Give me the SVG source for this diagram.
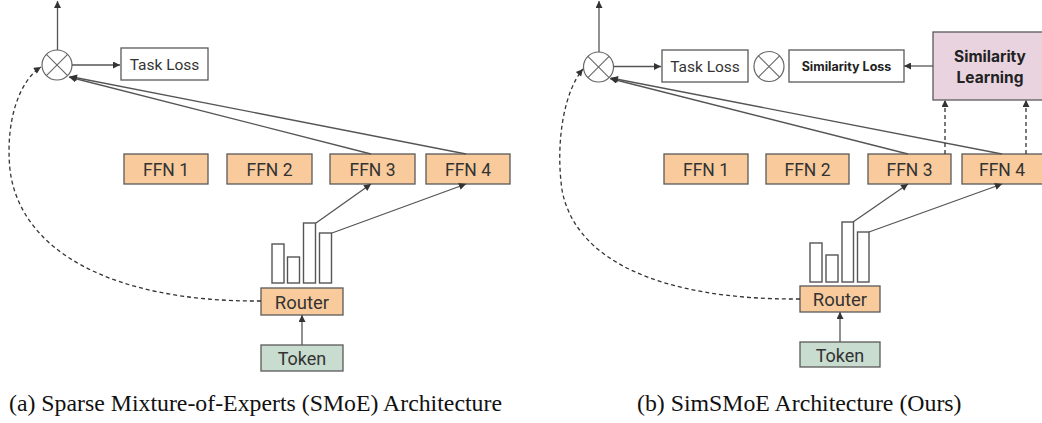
<svg xmlns="http://www.w3.org/2000/svg" width="1042" height="423" viewBox="0 0 1042 423">
<style>
  .ffn{fill:#f9cb9c;stroke:#595959;stroke-width:1.3}
  .tok{fill:#c8dccf;stroke:#595959;stroke-width:1.3}
  .box{fill:#ffffff;stroke:#595959;stroke-width:1.3}
  .sim{fill:#e8d3df;stroke:#595959;stroke-width:1.3}
  .bar{fill:#ffffff;stroke:#555;stroke-width:1.4}
  .op{fill:#ffffff;stroke:#666;stroke-width:1.2}
  .opx{stroke:#666;stroke-width:1.1}
  .t{font-family:Roboto,"Liberation Sans",sans-serif;fill:#333;text-anchor:middle}
  .tb{font-family:Inter,Roboto,"Liberation Sans",sans-serif;font-weight:bold;fill:#222;text-anchor:middle}
  .cap{font-family:"Liberation Serif","Times New Roman",serif;font-size:23.8px;fill:#111}
  .ln{fill:none;stroke:#555;stroke-width:1.3}
  .ds{fill:none;stroke:#333;stroke-width:1.3;stroke-dasharray:4 3}
</style>
<defs>
  <marker id="ah" viewBox="0 0 10 10" refX="10" refY="5" markerWidth="9" markerHeight="7" orient="auto" markerUnits="userSpaceOnUse">
    <path d="M0,0 L10,5 L0,10 z" fill="#333"/>
  </marker>
</defs>

<!-- Panel (a) -->
<g id="a-op">
  <circle class="op" cx="57" cy="65" r="15"/>
  <line class="opx" x1="46.4" y1="54.4" x2="67.6" y2="75.6"/>
  <line class="opx" x1="67.6" y1="54.4" x2="46.4" y2="75.6"/>
</g>
<g id="a-taskloss">
  <rect class="box" x="121" y="48" width="87" height="32"/>
  <text class="t" x="164.5" y="69.5" font-size="15.5">Task Loss</text>
</g>
<g id="a-ffn1"><rect class="ffn" x="124" y="154" width="84" height="30"/><text class="t" x="166" y="175.5" font-size="17.5">FFN 1</text></g>
<g id="a-ffn2"><rect class="ffn" x="227" y="154" width="85" height="30"/><text class="t" x="269.5" y="175.5" font-size="17.5">FFN 2</text></g>
<g id="a-ffn3"><rect class="ffn" x="330" y="154" width="85" height="30"/><text class="t" x="372.5" y="175.5" font-size="17.5">FFN 3</text></g>
<g id="a-ffn4"><rect class="ffn" x="426" y="154" width="84" height="30"/><text class="t" x="468" y="175.5" font-size="17.5">FFN 4</text></g>
<g id="a-bars">
  <rect class="bar" x="272" y="244" width="12" height="39"/>
  <rect class="bar" x="287.5" y="257" width="12" height="26"/>
  <rect class="bar" x="303.5" y="223" width="12" height="60"/>
  <rect class="bar" x="319.5" y="233" width="12" height="50"/>
</g>
<g id="a-router"><rect class="ffn" x="261" y="288" width="82" height="27"/><text class="t" x="302" y="308.5" font-size="18.5">Router</text></g>
<g id="a-token"><rect class="tok" x="261" y="345" width="82" height="26"/><text class="t" x="302" y="365" font-size="18">Token</text></g>

<!-- Panel (b) -->
<g id="b-op">
  <circle class="op" cx="598.5" cy="67" r="15"/>
  <line class="opx" x1="587.9" y1="56.4" x2="609.1" y2="77.6"/>
  <line class="opx" x1="609.1" y1="56.4" x2="587.9" y2="77.6"/>
</g>
<g id="b-taskloss">
  <rect class="box" x="662" y="50" width="86" height="32"/>
  <text class="t" x="705" y="71.5" font-size="15.5">Task Loss</text>
</g>
<g id="b-op2">
  <circle class="op" cx="769" cy="66.5" r="15"/>
  <line class="opx" x1="758.4" y1="55.9" x2="779.6" y2="77.1"/>
  <line class="opx" x1="779.6" y1="55.9" x2="758.4" y2="77.1"/>
</g>
<g id="b-simloss">
  <rect class="box" x="789" y="50" width="115" height="32"/>
  <text class="tb" x="846.5" y="70.5" font-size="12.5">Similarity Loss</text>
</g>
<g id="b-simlearn">
  <rect class="sim" x="933" y="32" width="115" height="68"/>
  <text class="tb" x="990" y="62" font-size="15.5">Similarity</text>
  <text class="tb" x="990" y="83" font-size="15.5">Learning</text>
</g>
<g id="b-ffn1"><rect class="ffn" x="664" y="154" width="84" height="30"/><text class="t" x="706" y="175.5" font-size="17.5">FFN 1</text></g>
<g id="b-ffn2"><rect class="ffn" x="766" y="154" width="83" height="30"/><text class="t" x="807.5" y="175.5" font-size="17.5">FFN 2</text></g>
<g id="b-ffn3"><rect class="ffn" x="868" y="154" width="83" height="30"/><text class="t" x="909.5" y="175.5" font-size="17.5">FFN 3</text></g>
<g id="b-ffn4"><rect class="ffn" x="962" y="154" width="84" height="30"/><text class="t" x="1002" y="175.5" font-size="17.5">FFN 4</text></g>
<g id="b-bars">
  <rect class="bar" x="810" y="243" width="12" height="39"/>
  <rect class="bar" x="826" y="255" width="12" height="27"/>
  <rect class="bar" x="842" y="222" width="11.5" height="60"/>
  <rect class="bar" x="857.5" y="232" width="11.5" height="50"/>
</g>
<g id="b-router"><rect class="ffn" x="800" y="286" width="80" height="26"/><text class="t" x="840" y="306" font-size="18.5">Router</text></g>
<g id="b-token"><rect class="tok" x="800" y="342" width="80" height="25"/><text class="t" x="840" y="361.5" font-size="18">Token</text></g>

<g id="connectors">
  <!-- (a) -->
  <line class="ln" x1="57.5" y1="50" x2="57.5" y2="1" marker-end="url(#ah)"/>
  <line class="ln" x1="72" y1="65" x2="120" y2="65" marker-end="url(#ah)"/>
  <line class="ln" x1="371" y1="154" x2="69" y2="77" marker-end="url(#ah)"/>
  <line class="ln" x1="466" y1="154" x2="70" y2="76.5" marker-end="url(#ah)"/>
  <line class="ln" x1="316" y1="223" x2="371" y2="184" marker-end="url(#ah)"/>
  <line class="ln" x1="332" y1="233" x2="466" y2="184" marker-end="url(#ah)"/>
  <line class="ln" x1="302" y1="345" x2="302" y2="315" marker-end="url(#ah)"/>
  <path class="ds" d="M261,301 C110,302 20,250 10,170 C5,120 20,80 41,67" marker-end="url(#ah)"/>
  <!-- (b) -->
  <line class="ln" x1="599" y1="52" x2="599" y2="1" marker-end="url(#ah)"/>
  <line class="ln" x1="614" y1="66.5" x2="661" y2="66.5" marker-end="url(#ah)"/>
  <line class="ln" x1="933" y1="66" x2="904" y2="66" marker-end="url(#ah)"/>
  <line class="ln" x1="908" y1="154" x2="610" y2="78.5" marker-end="url(#ah)"/>
  <line class="ln" x1="1002" y1="154" x2="611" y2="78" marker-end="url(#ah)"/>
  <line class="ln" x1="853" y1="222" x2="908" y2="184" marker-end="url(#ah)"/>
  <line class="ln" x1="869" y1="232" x2="1002" y2="184" marker-end="url(#ah)"/>
  <line class="ln" x1="840" y1="342" x2="840" y2="312" marker-end="url(#ah)"/>
  <line class="ds" x1="945" y1="154" x2="945" y2="100" marker-end="url(#ah)"/>
  <line class="ds" x1="1026" y1="154" x2="1026" y2="100" marker-end="url(#ah)"/>
  <path class="ds" d="M800,299 C660,300 575,260 562,190 C555,140 565,90 583,69" marker-end="url(#ah)"/>
</g>

<text class="cap" x="9" y="411">(a) Sparse Mixture-of-Experts (SMoE) Architecture</text>
<text class="cap" x="637" y="411">(b) SimSMoE Architecture (Ours)</text>
</svg>
